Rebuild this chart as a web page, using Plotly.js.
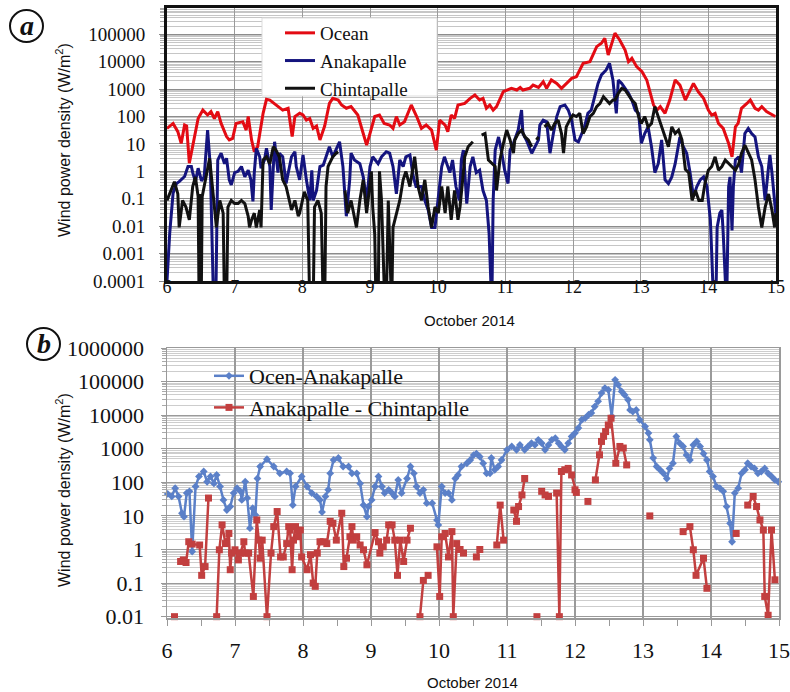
<!DOCTYPE html>
<html><head><meta charset="utf-8">
<script src="https://cdn.plot.ly/plotly-3.0.1.min.js"></script>
<style>html,body{margin:0;padding:0;background:#fff}#chart{width:790px;height:692px}</style>
</head><body><div id="chart"></div>
<script>
// ---------- Panel (a) ----------
const oceanDay = [6.00,6.09,6.16,6.21,6.26,6.29,6.33,6.41,6.46,6.53,6.60,6.65,6.70,6.75,6.80,6.88,6.92,6.97,7.02,7.12,7.17,7.20,7.25,7.29,7.34,7.42,7.47,7.52,7.62,7.71,7.79,7.85,7.89,7.96,8.01,8.06,8.11,8.16,8.21,8.26,8.33,8.40,8.45,8.53,8.58,8.65,8.72,8.82,8.90,8.95,9.00,9.07,9.14,9.21,9.29,9.34,9.39,9.44,9.51,9.61,9.69,9.76,9.83,9.91,9.98,10.03,10.11,10.15,10.20,10.25,10.30,10.40,10.48,10.55,10.62,10.67,10.72,10.77,10.82,10.87,10.97,11.02,11.09,11.17,11.22,11.26,11.36,11.41,11.49,11.56,11.61,11.68,11.76,11.83,11.91,11.98,12.05,12.15,12.25,12.35,12.42,12.47,12.52,12.57,12.62,12.69,12.77,12.82,12.87,12.94,13.02,13.09,13.19,13.24,13.29,13.36,13.43,13.51,13.58,13.66,13.73,13.78,13.85,13.93,14.00,14.05,14.10,14.15,14.22,14.30,14.35,14.40,14.44,14.49,14.57,14.62,14.69,14.74,14.79,14.86,14.99];
const oceanVal = [37,56,28,10.5,49,45,2,18.6,85,172,114,152,85,152,56,18.6,14,16,56,65,32,100,14,5.2,8,131,425,400,264,172,200,18.6,100,131,114,74,85,37,45,14,45,300,460,400,264,200,230,114,24,9.1,24,100,114,56,49,37,100,49,65,264,100,37,49,32,6,74,49,28,114,85,264,300,460,610,400,460,200,264,172,230,810,930,1070,930,1160,930,1070,1400,1160,1870,1070,2160,1620,1070,1620,2480,2850,8800,10000,35500,47000,72000,17600,47000,110000,62000,26800,10000,13300,6600,4300,2160,264,172,230,131,400,2160,1400,400,930,1620,810,460,172,114,131,56,37,10.5,3.4,42,56,200,300,400,200,172,230,152,100];

const anakDay = [6.00,6.04,6.09,6.14,6.18,6.26,6.31,6.36,6.38,6.42,6.46,6.51,6.55,6.60,6.64,6.67,6.69,6.72,6.75,6.80,6.85,6.88,6.92,6.95,7.00,7.05,7.10,7.15,7.20,7.24,7.27,7.29,7.32,7.37,7.39,7.44,7.47,7.52,7.54,7.59,7.64,7.66,7.71,7.76,7.79,7.84,7.89,7.91,7.96,8.01,8.06,8.11,8.14,8.16,8.21,8.26,8.31,8.35,8.40,8.45,8.50,8.55,8.60,8.65,8.70,8.72,8.77,8.85,8.90,8.95,9.00,9.04,9.12,9.17,9.24,9.29,9.34,9.39,9.44,9.49,9.53,9.59,9.64,9.68,9.76,9.81,9.86,9.91,9.96,10.00,10.06,10.10,10.18,10.22,10.27,10.32,10.35,10.38,10.43,10.48,10.52,10.57,10.62,10.67,10.72,10.76,10.78,10.80,10.82,10.85,10.90,10.94,10.99,11.04,11.07,11.12,11.19,11.24,11.26,11.31,11.39,11.44,11.49,11.51,11.56,11.61,11.66,11.71,11.76,11.81,11.88,11.93,11.98,12.03,12.08,12.13,12.17,12.22,12.27,12.32,12.37,12.42,12.49,12.54,12.59,12.64,12.67,12.72,12.77,12.82,12.87,12.92,12.97,13.01,13.06,13.11,13.16,13.21,13.26,13.31,13.36,13.41,13.46,13.51,13.58,13.63,13.68,13.73,13.78,13.83,13.88,13.93,13.98,14.03,14.05,14.08,14.11,14.13,14.17,14.20,14.22,14.25,14.27,14.30,14.32,14.35,14.37,14.40,14.45,14.49,14.54,14.59,14.64,14.69,14.74,14.79,14.84,14.89,14.91,14.94,14.98,15.00];
const anakVal = [0.0001,0.0055,0.16,0.36,0.42,0.65,1.5,1.5,0.9,0.42,1.3,0.45,0.65,32,1.5,0.005,0.00001,0.00001,2.6,4.6,1.9,3.0,0.49,0.32,0.9,1.0,1.5,0.63,1.1,0.49,0.08,0.9,6.9,3.4,1.3,2.6,6.9,1.5,0.039,12,0.9,4.6,3.4,0.36,0.9,3.4,5.2,1.5,0.49,4,0.49,0.087,1.1,0.087,0.2,1.5,1.7,3.4,7.9,3.4,6.9,12,1.5,0.023,0.49,4.6,2.6,1.9,0.63,0.087,1.5,3.4,1.9,3.4,5.2,4.6,1.5,0.15,2.6,1.5,3.4,4,0.63,0.28,0.28,0.087,0.039,0.009,0.009,0.087,1.5,3.4,0.9,2.6,0.28,0.087,2.6,6,0.067,1.5,3.4,0.9,1.1,0.2,0.087,0.0055,0.00001,0.00001,0.087,6,18,6,1.1,0.36,6,10.5,32,172,24,14,4.6,7.9,14,49,74,65,4.6,24,100,230,264,172,74,14,12,24,42,131,172,530,1620,3300,5000,8800,2160,131,2160,1620,1070,710,400,172,131,10.5,24,42,7.9,0.9,1.9,14,0.49,0.36,0.63,1.9,18,7.9,4.6,0.9,0.12,0.28,0.49,0.63,0.28,0.017,0.001,0.00001,0.00001,0.009,0.03,0.039,0.0055,0.00001,0.00001,0.28,0.63,0.007,0.28,2.6,3.4,0.9,24,37,24,18,3.4,1.5,0.087,1.5,4,0.9,0.05,0.023];

const chinDay = [6.00,6.06,6.11,6.16,6.18,6.23,6.28,6.33,6.38,6.42,6.46,6.475,6.49,6.505,6.52,6.63,6.68,6.73,6.78,6.83,6.85,6.88,6.90,6.95,7.00,7.05,7.10,7.15,7.20,7.22,7.25,7.29,7.32,7.37,7.39,7.42,7.47,7.52,7.57,7.61,7.66,7.71,7.76,7.84,7.89,7.94,7.96,8.03,8.08,8.11,8.16,8.18,8.23,8.28,8.31,8.33,8.35,8.38,8.40,8.45,8.50,8.53,8.58,8.63,8.67,8.72,8.80,8.85,8.90,8.95,9.02,9.04,9.07,9.09,9.12,9.14,9.17,9.22,9.24,9.27,9.29,9.32,9.34,9.39,9.44,9.49,9.53,9.59,9.66,9.71,9.76,9.81,9.86,9.91,9.96,10.01,10.06,10.11,10.15,10.20,10.25,10.30,10.33,10.37,10.40,10.45,10.52,10.58,10.65,10.70,10.75,10.80,10.85,10.87,10.92,10.97,11.02,11.07,11.12,11.14,11.19,11.24,11.29,11.34,11.39,11.42,11.46,11.49,11.53,11.58,11.63,11.68,11.73,11.78,11.83,11.86,11.90,11.95,12.00,12.05,12.10,12.15,12.20,12.25,12.30,12.35,12.40,12.45,12.50,12.54,12.59,12.62,12.67,12.72,12.77,12.82,12.87,12.92,12.97,13.01,13.06,13.11,13.16,13.21,13.26,13.31,13.36,13.41,13.46,13.51,13.56,13.61,13.66,13.71,13.76,13.81,13.86,13.91,13.95,14.00,14.05,14.10,14.15,14.20,14.25,14.30,14.35,14.40,14.45,14.49,14.54,14.59,14.64,14.69,14.74,14.79,14.84,14.89,14.94,14.98,15.00];
const chinVal = [0.087,0.2,0.42,0.15,0.009,0.087,0.05,0.017,0.28,0.63,0.12,0.00001,0.15,0.00001,0.12,3.0,0.12,0.009,0.087,0.03,0.00001,0.00001,0.05,0.087,0.067,0.067,0.087,0.067,0.023,0.009,0.017,0.03,0.009,0.039,0.009,2.6,3.4,1.9,7.9,6.0,3.4,0.49,0.28,0.039,0.087,0.023,0.03,0.18,0.087,0.00001,0.00001,0.05,0.087,0.03,0.00001,0.00001,0.28,1.5,1.9,3.4,4.6,5.2,null,0.2,0.03,0.087,0.009,0.087,0.49,0.03,1.0,0.05,0.005,0.00001,0.00001,1.0,0.087,0.00001,0.00001,0.087,0.001,0.00001,0.009,0.03,0.087,0.49,1.0,0.28,3.4,0.28,0.087,0.49,0.05,0.009,0.05,0.03,0.28,0.03,0.28,0.017,0.2,0.017,0.05,0.5,3.4,7.9,12,null,21,24,2.6,1.9,1.5,0.2,2.6,10,32,14,4.6,14,24,32,18,14,7.9,null,14,18,null,42,56,32,56,74,24,4.6,42,74,114,100,131,24,42,100,131,230,300,530,400,300,400,400,710,1070,930,610,400,300,100,56,100,42,56,230,100,42,18,7.9,42,24,32,14,1.2,0.9,0.087,0.2,0.087,0.087,0.36,1.1,1.5,3.4,1.1,1.5,2.6,1.9,1.5,1.1,1.9,4.6,9,4.6,2.6,0.49,0.05,0.009,0.05,0.15,0.039,0.009,0.03];

// ---------- Panel (b) ----------
const oaDay = [6.01,6.07,6.12,6.17,6.22,6.25,6.29,6.33,6.37,6.42,6.47,6.54,6.59,6.64,6.69,6.73,6.78,6.83,6.88,6.93,6.98,7.03,7.08,7.10,7.15,7.18,7.22,7.26,7.30,7.33,7.37,7.47,7.57,7.66,7.76,7.81,7.85,7.89,7.98,8.06,8.13,8.20,8.25,8.28,8.33,8.37,8.40,8.45,8.52,8.59,8.67,8.72,8.79,8.84,8.89,8.94,8.96,9.01,9.06,9.11,9.16,9.20,9.26,9.31,9.35,9.40,9.45,9.53,9.58,9.63,9.67,9.72,9.77,9.82,9.90,9.97,9.99,10.04,10.09,10.14,10.19,10.24,10.28,10.33,10.41,10.46,10.51,10.55,10.60,10.65,10.70,10.75,10.77,10.82,10.87,10.92,11.00,11.07,11.14,11.19,11.26,11.31,11.36,11.41,11.46,11.51,11.56,11.61,11.66,11.71,11.76,11.80,11.85,11.90,11.95,12.00,12.05,12.10,12.15,12.20,12.24,12.29,12.34,12.39,12.44,12.49,12.54,12.59,12.635,12.685,12.73,12.78,12.81,12.85,12.90,12.95,13.03,13.08,13.10,13.15,13.20,13.25,13.30,13.35,13.39,13.44,13.49,13.54,13.59,13.64,13.69,13.74,13.79,13.84,13.89,13.94,13.98,14.03,14.08,14.13,14.18,14.23,14.28,14.31,14.35,14.40,14.45,14.50,14.54,14.59,14.64,14.69,14.74,14.79,14.84,14.89,14.94,14.99];
const oaVal = [45,38,67,38,12,9.5,48,54,0.87,75,150,210,104,150,93,166,75,30,15,19,48,67,54,30,104,34,4.3,17,10.7,130,296,490,296,186,210,186,21,75,150,75,48,38,30,13,38,60,186,463,530,296,296,186,186,93,21,9.5,19,30,75,150,75,48,60,48,38,118,48,130,296,186,75,48,60,24,24,7.5,5.4,75,48,48,30,130,166,296,370,463,650,720,580,370,186,186,530,236,296,463,930,1170,930,1300,930,1170,1470,1300,1840,1470,930,1300,1840,2070,1470,1170,930,1470,2330,2930,4140,7300,8200,10300,11600,18000,25900,45500,64000,57000,9200,113000,80000,51000,40000,28600,14300,12800,14300,7300,4600,2930,1840,530,296,236,186,130,260,370,2330,1470,1170,650,463,1300,1650,1170,720,463,210,150,75,67,54,19,6,1.7,48,67,186,236,370,296,260,186,210,260,186,150,118,104];

const acDay = [6.11,6.15,6.20,6.24,6.28,6.32,6.37,6.48,6.51,6.56,6.61,6.67,6.73,6.77,6.81,6.86,6.91,6.93,6.95,7.00,7.05,7.08,7.13,7.15,7.20,7.27,7.32,7.35,7.37,7.40,7.47,7.53,7.57,7.62,7.67,7.71,7.76,7.79,7.81,7.84,7.86,7.89,7.93,7.96,7.98,8.06,8.11,8.15,8.18,8.21,8.25,8.30,8.35,8.40,8.44,8.49,8.57,8.60,8.64,8.69,8.72,8.74,8.79,8.84,8.89,8.94,9.06,9.11,9.13,9.18,9.23,9.26,9.31,9.35,9.39,9.43,9.48,9.53,9.58,9.65,9.72,9.77,9.84,9.90,9.97,10.01,10.04,10.09,10.14,10.19,10.21,10.26,10.31,10.36,10.45,10.55,10.60,10.72,10.85,10.90,10.95,11.02,11.10,11.14,11.17,11.22,11.26,11.35,11.44,11.47,11.51,11.56,11.61,11.67,11.73,11.77,11.80,11.85,11.90,11.95,12.00,12.02,12.10,12.19,12.25,12.30,12.36,12.39,12.42,12.45,12.49,12.53,12.60,12.66,12.71,12.76,12.90,13.10,13.30,13.59,13.69,13.74,13.78,13.89,13.94,14.20,14.37,14.45,14.54,14.62,14.67,14.72,14.77,14.79,14.84,14.89,14.94];
const acVal = [0.01,null,0.44,0.49,0.41,1.7,1.45,1.36,0.17,0.31,34,null,0.01,0.98,5.4,1.5,3,0.25,0.78,0.98,0.49,0.78,1.7,0.78,0.78,0.04,7.6,1.9,0.55,1.9,0.01,0.78,4.8,13.5,0.6,0.6,1.5,4.8,3.8,0.25,1.9,4.8,2.4,3.8,0.6,0.25,0.7,0.1,0.08,0.78,1.7,1.7,1.5,6.9,6.0,1.9,12,0.31,0.55,2.4,4.8,1.9,2.4,1.36,0.98,0.35,3.2,1.7,0.78,1.2,1.9,5.4,5.4,1.9,0.17,1.9,0.44,1.9,4.3,null,0.01,0.12,0.17,null,1.2,0.04,2.4,3.0,0.6,3.4,0.01,1.5,1.0,0.78,null,0.6,1.0,null,1.36,21,1.9,null,15,6.9,19,42,130,null,0.01,null,54,42,38,null,48,0.01,210,236,260,166,60,50,null,27,null,118,660,1650,2350,3250,5100,8100,370,1170,1050,330,null,10,null,3.4,4.8,0.98,0.17,0.55,0.07,null,3.0,null,21,38,19,7.6,3.8,0.04,0.011,3.8,0.125];

const dayTicks = [6,7,8,9,10,11,12,13,14,15];
const yTicksA = [0.0001,0.001,0.01,0.1,1,10,100,1000,10000,100000];
const yLabelsA = ['0.0001','0.001','0.01','0.1','1','10','100','1000','10000','100000'];
const yTicksB = [0.01,0.1,1,10,100,1000,10000,100000,1000000];
const yLabelsB = ['0.01','0.1','1','10','100','1000','10000','100000','1000000'];

// minor log grid positions (2..9 in each decade)
function minorLog(lo, hi){ const out=[]; for(let e=lo;e<=hi;e++){ for(let m=2;m<=9;m++) out.push(m*Math.pow(10,e)); } return out; }

const serif = 'Liberation Serif, Times New Roman, serif';
const sans = 'Liberation Sans, Arial, sans-serif';
const W = 790, H = 692;
const px = v => v / W, py = v => 1 - v / H;

const traces = [
  {x: oceanDay, y: oceanVal, name: 'Ocean', type: 'scatter', mode: 'lines', xaxis: 'x', yaxis: 'y',
   line: {color: '#e30b13', width: 3}, legendgroup: 'o', legend: 'legend'},
  {x: anakDay, y: anakVal, name: 'Anakapalle', type: 'scatter', mode: 'lines', xaxis: 'x', yaxis: 'y',
   line: {color: '#14147e', width: 3}, legendgroup: 'a', legend: 'legend'},
  {x: chinDay, y: chinVal, name: 'Chintapalle', type: 'scatter', mode: 'lines', xaxis: 'x', yaxis: 'y',
   line: {color: '#111111', width: 3}, connectgaps: false, legendgroup: 'c', legend: 'legend'},
  {x: oaDay, y: oaVal, name: 'Ocen-Anakapalle', type: 'scatter', mode: 'lines+markers', xaxis: 'x2', yaxis: 'y2',
   line: {color: '#5b80c8', width: 2.5}, marker: {symbol: 'diamond', size: 6, color: '#5b80c8'}, cliponaxis: false,
   legendgroup: 'oa', legend: 'legend2'},
  {x: acDay, y: acVal, name: 'Anakapalle - Chintapalle', type: 'scatter', mode: 'lines+markers', xaxis: 'x2', yaxis: 'y2',
   line: {color: '#c23f3f', width: 2.5}, marker: {symbol: 'square', size: 7, color: '#c23f3f'}, connectgaps: false, cliponaxis: false,
   legendgroup: 'ac', legend: 'legend2'}
];

const ann = (text, x, y, size, fam, extra) => Object.assign({text: text, x: px(x), y: py(y), xref: 'paper', yref: 'paper',
  xanchor: 'center', yanchor: 'middle', showarrow: false, font: {family: fam, size: size, color: '#111'}}, extra || {});

const layout = {
  width: W, height: H, margin: {l: 0, r: 0, t: 0, b: 0},
  paper_bgcolor: '#ffffff', plot_bgcolor: '#ffffff', showlegend: true,
  xaxis: {domain: [px(167), px(776)], range: [6, 15], anchor: 'y', tickmode: 'array', tickvals: dayTicks,
    ticktext: dayTicks.map(String), tickfont: {family: serif, size: 18, color: '#111'}, showgrid: true,
    gridcolor: '#9a9a9a', gridwidth: 1, showline: true, mirror: true, linewidth: 3, linecolor: '#111',
    ticks: '', zeroline: false, ticklabelstandoff: -13},
  yaxis: {domain: [py(281), py(8)], type: 'log', range: [-4.0, 5.96], anchor: 'x', tickmode: 'array',
    tickvals: yTicksA, ticktext: yLabelsA, tickfont: {family: serif, size: 19, color: '#111'},
    ticks: 'outside', ticklen: 5, tickcolor: '#888', gridcolor: '#8c8c8c', gridwidth: 1,
    minor: {tickmode: 'array', tickvals: minorLog(-4, 5), ticks: 'outside', ticklen: 4, tickcolor: '#aaa',
      showgrid: true, gridcolor: '#c6c6c6', gridwidth: 1},
    showline: true, mirror: true, linewidth: 3, linecolor: '#111', zeroline: false, ticklabelstandoff: 10},
  xaxis2: {domain: [px(167), px(779)], range: [6, 15], anchor: 'y2', tickmode: 'array', tickvals: dayTicks,
    ticktext: dayTicks.map(String), tickfont: {family: serif, size: 22, color: '#111'}, showgrid: true,
    gridcolor: '#9a9a9a', gridwidth: 1.5, showline: true, mirror: true, linewidth: 1.5, linecolor: '#9a9a9a',
    ticks: 'outside', ticklen: 6, tickcolor: '#999',
    minor: {dtick: 0.5, ticks: 'outside', ticklen: 6, tickcolor: '#999'}, zeroline: false, ticklabelstandoff: 6},
  yaxis2: {domain: [py(618), py(348)], type: 'log', range: [-2.04, 6.0], anchor: 'x2', tickmode: 'array',
    tickvals: yTicksB, ticktext: yLabelsB, tickfont: {family: serif, size: 22, color: '#111'},
    ticks: 'outside', ticklen: 5, tickcolor: '#999', gridcolor: '#9a9a9a', gridwidth: 1,
    minor: {tickmode: 'array', tickvals: minorLog(-2, 5), ticks: 'outside', ticklen: 4, tickcolor: '#aaa',
      showgrid: true, gridcolor: '#cdcdcd', gridwidth: 1},
    showline: true, mirror: true, linewidth: 1.5, linecolor: '#9a9a9a', zeroline: false, ticklabelstandoff: 12},
  legend: {x: px(280), y: py(14), xanchor: 'left', yanchor: 'top', bgcolor: 'rgba(0,0,0,0)',
    borderwidth: 0, font: {family: serif, size: 19, color: '#111'}, tracegroupgap: 0, itemwidth: 30},
  legend2: {x: px(209), y: py(355), xanchor: 'left', yanchor: 'top', bgcolor: 'rgba(0,0,0,0)',
    font: {family: serif, size: 22, color: '#111'}, tracegroupgap: 0, itemwidth: 30},
  annotations: [
    ann('October 2014', 470, 320, 15, sans),
    ann('October 2014', 472, 682, 15, sans),
    ann('Wind power density (W/m<sup>2</sup>)', 63, 140, 16, sans, {textangle: -90}),
    ann('Wind power density (W/m<sup>2</sup>)', 63, 490, 16, sans, {textangle: -90}),
    ann('<b><i>a</i></b>', 26.5, 25, 28, serif),
    ann('<b><i>b</i></b>', 43.5, 343, 28, serif)
  ],
  shapes: [
    // white legend box of panel (a)
    {type: 'rect', xref: 'paper', yref: 'paper', x0: px(262), x1: px(437), y0: py(96), y1: py(18),
     fillcolor: '#ffffff', line: {color: '#dddddd', width: 1}, layer: 'above'},
    {type: 'circle', xref: 'paper', yref: 'paper', x0: px(10), x1: px(43), y0: py(42), y1: py(10),
     line: {color: '#111', width: 2}},
    {type: 'circle', xref: 'paper', yref: 'paper', x0: px(27), x1: px(60), y0: py(360), y1: py(328),
     line: {color: '#111', width: 2}}
  ]
};

Plotly.newPlot('chart', traces, layout, {displayModeBar: false, staticPlot: true});
</script>
</body></html>
